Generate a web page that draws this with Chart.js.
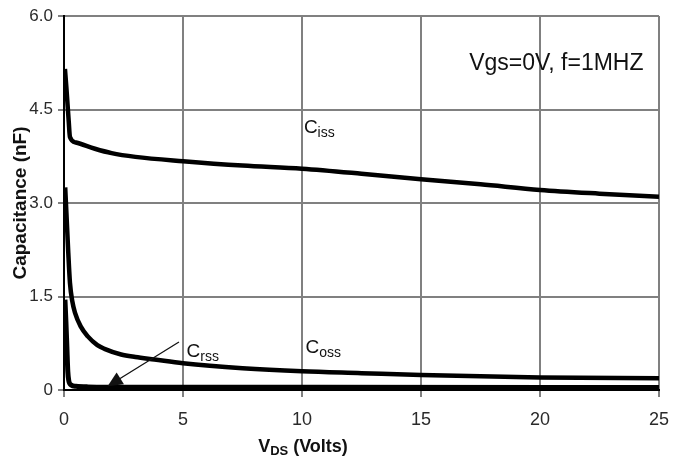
<!DOCTYPE html>
<html>
<head>
<meta charset="utf-8">
<script src="https://cdn.jsdelivr.net/npm/chart.js@4.4.1/dist/chart.umd.min.js"></script>
<style>
  body { margin: 0; background: #fff; }
  #wrap { width: 681px; height: 462px; position: relative; }
</style>
</head>
<body>
<div id="wrap"><canvas id="myChart"></canvas></div>
<script>
// values (V_DS in volts, capacitance in nF)
const cissV = [0.04, 0.1, 0.2, 0.25, 0.5, 1.3, 2, 3, 5, 7.5, 10, 12.5, 15, 17.5, 20, 22.5, 25]
const cissC = [5.15, 4.85, 4.3, 4.06, 3.97, 3.87, 3.8, 3.74, 3.67, 3.6, 3.55, 3.47, 3.38, 3.3, 3.21, 3.15, 3.1]

const cossV = [0.05, 0.1, 0.18, 0.25, 0.35, 0.46, 0.7, 1.0, 1.4, 1.7, 2.4, 3.0, 3.8, 5, 7.5, 10, 12.5, 15, 20, 25]
const cossC = [3.25, 2.85, 2.2, 1.72, 1.42, 1.24, 1.02, 0.86, 0.72, 0.66, 0.57, 0.53, 0.49, 0.43, 0.35, 0.3, 0.27, 0.24, 0.2, 0.19]

const crssV = [0.04, 0.08, 0.12, 0.16, 0.2, 0.3, 0.5, 1, 3, 10, 25]
const crssC = [1.45, 1.1, 0.7, 0.3, 0.15, 0.08, 0.06, 0.05, 0.045, 0.045, 0.04]

const xTicks = [0, 5, 10, 15, 20, 25]
const yTicks = [0, 1.5, 3.0, 4.5, 6.0]

const FONT = "'Liberation Sans', Arial, sans-serif"

function toPoints(xs, ys) {
    return xs.map((x, i) => ({ x: x, y: ys[i] }))
}

// text labels placed in data coordinates
const labels = [
    { main: 'C', sub: 'iss', x: 10.08, y: 4.12 },
    { main: 'C', sub: 'oss', x: 10.15, y: 0.59 },
    { main: 'C', sub: 'rss', x: 5.15, y: 0.53 }
]
const arrowFrom = { x: 4.83, y: 0.77 }
const arrowTo = { x: 1.83, y: 0.06 }

const annotations = {
    id: 'annotations',
    afterDraw(chart) {
        const ctx = chart.ctx
        const xs = chart.scales.x
        const ys = chart.scales.y
        const area = chart.chartArea
        ctx.save()
        ctx.fillStyle = '#111'
        ctx.textBaseline = 'alphabetic'

        // conditions note
        ctx.font = '23px ' + FONT
        ctx.textAlign = 'right'
        ctx.fillText('Vgs=0V, f=1MHZ', xs.getPixelForValue(24.35), ys.getPixelForValue(5.13))

        // curve names with subscripts
        ctx.textAlign = 'left'
        labels.forEach(l => {
            let px = xs.getPixelForValue(l.x)
            let py = ys.getPixelForValue(l.y)
            ctx.font = '19px ' + FONT
            ctx.fillText(l.main, px, py)
            let w = ctx.measureText(l.main).width
            ctx.font = '14px ' + FONT
            ctx.fillText(l.sub, px + w, py + 4)
        })

        // arrow to Crss
        let x1 = xs.getPixelForValue(arrowFrom.x), y1 = ys.getPixelForValue(arrowFrom.y)
        let x2 = xs.getPixelForValue(arrowTo.x), y2 = ys.getPixelForValue(arrowTo.y)
        let ang = Math.atan2(y2 - y1, x2 - x1)
        ctx.strokeStyle = '#111'
        ctx.lineWidth = 1.3
        ctx.beginPath()
        ctx.moveTo(x1, y1)
        ctx.lineTo(x2 - 10 * Math.cos(ang), y2 - 10 * Math.sin(ang))
        ctx.stroke()
        ctx.beginPath()
        ctx.moveTo(x2, y2)
        ctx.lineTo(x2 - 15 * Math.cos(ang) + 7 * Math.sin(ang), y2 - 15 * Math.sin(ang) - 7 * Math.cos(ang))
        ctx.lineTo(x2 - 15 * Math.cos(ang) - 7 * Math.sin(ang), y2 - 15 * Math.sin(ang) + 7 * Math.cos(ang))
        ctx.closePath()
        ctx.fill()

        // x axis title with subscript
        ctx.font = 'bold 18px ' + FONT
        let partA = 'V'
        let partC = ' (Volts)'
        let wA = ctx.measureText(partA).width
        let wC = ctx.measureText(partC).width
        ctx.font = 'bold 13px ' + FONT
        let wB = ctx.measureText('DS').width
        let cx = xs.getPixelForValue(10)
        let left = cx - (wA + wB + wC) / 2 + 1
        let base = area.bottom + 62
        ctx.font = 'bold 18px ' + FONT
        ctx.fillText(partA, left, base)
        ctx.font = 'bold 13px ' + FONT
        ctx.fillText('DS', left + wA, base + 3)
        ctx.font = 'bold 18px ' + FONT
        ctx.fillText(partC, left + wA + wB, base)
        ctx.restore()
    }
}

new Chart(document.getElementById('myChart').getContext('2d'), {
    type: 'line',
    data: {
        datasets: [
            { label: 'Ciss', data: toPoints(cissV, cissC), borderColor: '#000', borderWidth: 4.5 },
            { label: 'Coss', data: toPoints(cossV, cossC), borderColor: '#000', borderWidth: 4.5 },
            { label: 'Crss', data: toPoints(crssV, crssC), borderColor: '#000', borderWidth: 5 }
        ]
    },
    options: {
        responsive: true,
        maintainAspectRatio: false,
        animation: false,
        layout: { padding: { top: 16, right: 22, left: 0, bottom: 0 } },
        elements: {
            point: { radius: 0 },
            line: { cubicInterpolationMode: 'monotone', fill: false, borderCapStyle: 'butt' }
        },
        plugins: {
            legend: { display: false },
            tooltip: { enabled: false }
        },
        scales: {
            x: {
                type: 'linear',
                min: 0,
                max: 25,
                afterBuildTicks: scale => { scale.ticks = xTicks.map(v => ({ value: v })) },
                afterFit: scale => { scale.height = 72 },
                grid: { color: '#808080', lineWidth: 2, tickLength: 7 },
                border: { color: '#000', width: 2 },
                ticks: { font: { family: FONT, size: 18 }, color: '#2a2a2a', padding: 12, maxRotation: 0 }
            },
            y: {
                min: 0,
                max: 6,
                afterBuildTicks: scale => { scale.ticks = yTicks.map(v => ({ value: v })) },
                afterFit: scale => { scale.width = 64 },
                grid: { color: '#808080', lineWidth: 2, tickLength: 6 },
                border: { color: '#000', width: 2 },
                ticks: {
                    font: { family: FONT, size: 17 },
                    color: '#2a2a2a',
                    padding: 5,
                    callback: v => v === 0 ? '0' : v.toFixed(1)
                },
                title: {
                    display: true,
                    text: 'Capacitance (nF)',
                    font: { family: FONT, size: 19, weight: 'bold' },
                    color: '#111',
                    padding: { top: 9, bottom: 0 }
                }
            }
        }
    },
    plugins: [annotations]
})
</script>
</body>
</html>
